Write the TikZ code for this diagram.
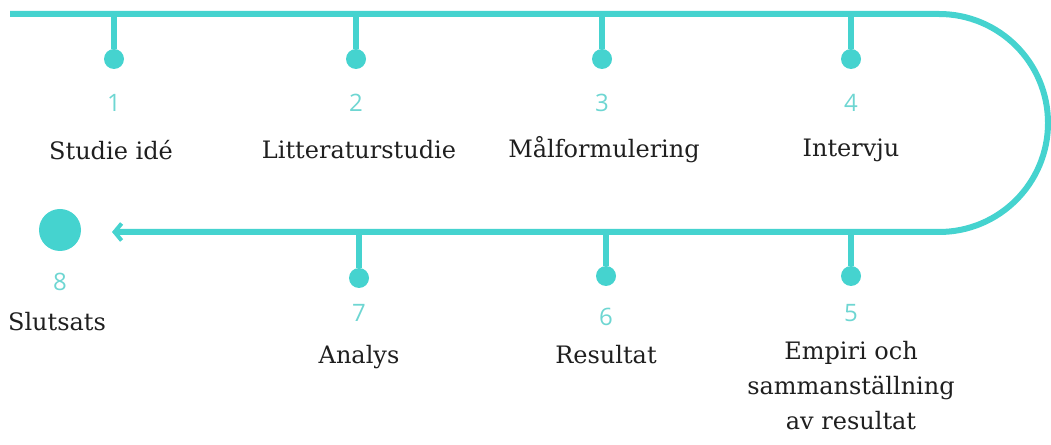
\documentclass[tikz,border=0pt]{standalone}
\usepackage{fontspec}
\setmainfont{DejaVu Serif}
\newfontfamily\numfont{Open Sans}
\usetikzlibrary{arrows.meta}
\definecolor{turk}{HTML}{45D3CF}
\definecolor{turklight}{HTML}{6ED6D2}
\begin{document}
\begin{tikzpicture}[x=1pt,y=1pt]
      \useasboundingbox (0,0) rectangle (1051,444);

      % main line
      \coordinate (start) at (10,430);
      \coordinate (turn)  at (939,430);
      \coordinate (stop)  at (112,212);
      \draw[turk, line width=6pt, -{Straight Barb[length=7pt,width=17pt,line width=4pt]}]
        (start) -- (turn) arc[start angle=90, end angle=-90, radius=109] -- (stop);

      \begin{scope}[every node/.style={circle, fill=turk, inner sep=0pt, minimum size=20pt}]
        \node (d1) at (114,385) {};
        \node (d2) at (356,385) {};
        \node (d3) at (602,385) {};
        \node (d4) at (851,385) {};
        \node (d5) at (851,168) {};
        \node (d6) at (606,168) {};
        \node (d7) at (359,166) {};
        \node[minimum size=42pt] (d8) at (60,214) {};
      \end{scope}

      \coordinate (t1) at (114,430);
      \coordinate (t2) at (356,430);
      \coordinate (t3) at (602,430);
      \coordinate (t4) at (851,430);
      \coordinate (t5) at (851,212);
      \coordinate (t6) at (606,212);
      \coordinate (t7) at (359,212);

      \begin{scope}[turk, line width=6pt]
        \draw (t1) -- (d1);
        \draw (t2) -- (d2);
        \draw (t3) -- (d3);
        \draw (t4) -- (d4);
        \draw (t5) -- (d5);
        \draw (t6) -- (d6);
        \draw (t7) -- (d7);
      \end{scope}

      \begin{scope}[every node/.style={text=turklight, font=\numfont\fontsize{24}{28}\selectfont}]
        \node (n1) at (114,341) {1};
        \node (n2) at (356,341) {2};
        \node (n3) at (602,341) {3};
        \node (n4) at (851,341) {4};
        \node (n5) at (851,131) {5};
        \node (n6) at (606,127) {6};
        \node (n7) at (359,131) {7};
        \node (n8) at (60,162) {8};
      \end{scope}

      \begin{scope}[every node/.style={text=black!88, align=center, font=\fontsize{24}{35}\selectfont}]
        \node (l1) at (111,294) {Studie idé};
        \node (l2) at (359,294) {Litteraturstudie};
        \node (l3) at (604,294) {Målformulering};
        \node (l4) at (851,294) {Intervju};
        \node[anchor=north] (l5) at (851,106) {Empiri och\\sammanställning\\av resultat};
        \node (l6) at (606,89) {Resultat};
        \node (l7) at (359,87) {Analys};
        \node (l8) at (57,122) {Slutsats};
      \end{scope}

    \end{tikzpicture}
\end{document}
